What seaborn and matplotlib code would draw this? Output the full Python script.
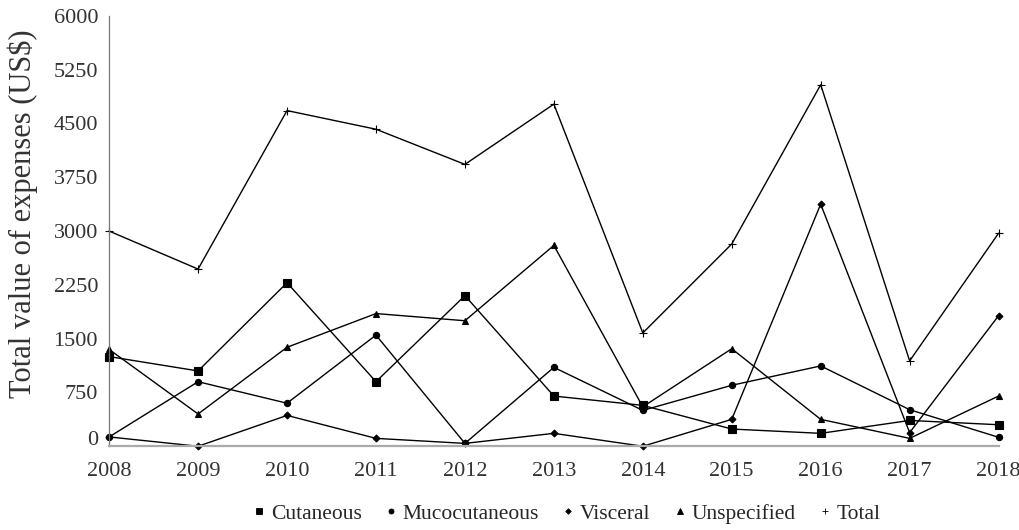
import pandas as pd
import seaborn as sns
import matplotlib.pyplot as plt
from matplotlib.lines import Line2D
from matplotlib.transforms import ScaledTranslation

years = [2008, 2009, 2010, 2011, 2012, 2013, 2014, 2015, 2016, 2017, 2018]

cutaneous = [1250, 1050, 2280, 900, 2100, 700, 570, 240, 180, 360, 300]
mucocutaneous = [130, 900, 600, 1550, 40, 1100, 500, 850, 1120, 510, 125]
visceral = [130, 0, 430, 110, 40, 180, 0, 375, 3375, 190, 1820]
unspecified = [1350, 450, 1380, 1850, 1750, 2800, 550, 1360, 375, 110, 700]
total = [3000, 2470, 4680, 4420, 3930, 4770, 1580, 2820, 5040, 1190, 2970]

series_names = ["Cutaneous", "Mucocutaneous", "Visceral", "Unspecified", "Total"]
series_values = [cutaneous, mucocutaneous, visceral, unspecified, total]

y_ticks = [0, 750, 1500, 2250, 3000, 3750, 4500, 5250, 6000]

# long form table for seaborn
rows = []
for name, vals in zip(series_names, series_values):
    for yr, v in zip(years, vals):
        rows.append([yr, v, name])
df = pd.DataFrame(rows, columns=["Year", "Value", "Series"])

markers = {"Cutaneous": "s", "Mucocutaneous": "o", "Visceral": "D", "Unspecified": "^", "Total": "+"}
msizes = {"Cutaneous": 5.5, "Mucocutaneous": 4.5, "Visceral": 3.5, "Unspecified": 5, "Total": 6}

sns.set_style("white")
plt.rcParams["font.family"] = ["Liberation Serif", "DejaVu Serif"]

fig = plt.figure(figsize=(10.2, 5.3), dpi=100)
ax = fig.add_axes([0.107, 0.158, 0.872, 0.812])

for name in series_names:
    sub = df[df["Series"] == name]
    sns.lineplot(data=sub, x="Year", y="Value", ax=ax, color="black", linewidth=1.0,
                 marker=markers[name], markersize=msizes[name], markeredgecolor="black",
                 markerfacecolor="black", markeredgewidth=0.8, clip_on=False, legend=False)

ax.set_xlim(2008, 2018)
ax.set_ylim(0, 6000)
ax.set_xticks(years)
ax.set_yticks(y_ticks)
ax.set_xticklabels([str(y) for y in years], fontsize=16)
ax.set_yticklabels([str(t) for t in y_ticks], fontsize=16)
ax.set_xlabel("")
ax.set_ylabel("Total value of expenses (US$)", fontsize=22, color="#333333")
ax.yaxis.set_label_coords(-0.08, 0.54)

for s in ["top", "right"]:
    ax.spines[s].set_visible(False)
ax.spines["left"].set_color("#777777")
ax.spines["left"].set_linewidth(0.9)
ax.spines["bottom"].set_color("#aaaaaa")
ax.spines["bottom"].set_linewidth(1.6)
ax.tick_params(axis="both", direction="inout", length=10, width=0.8, color="#555555",
               labelcolor="#333333")
ax.tick_params(axis="x", pad=6)
ax.tick_params(axis="y", pad=3)

# the zero label sits a little above its tick in the original
zero_lbl = ax.get_yticklabels()[0]
zero_lbl.set_transform(zero_lbl.get_transform() + ScaledTranslation(0, 0.08, fig.dpi_scale_trans))

handles = [Line2D([], [], linestyle="none", marker=markers[n], markersize=msizes[n] * 0.8,
                  color="black", markeredgewidth=0.6) for n in series_names]
fig.legend(handles, series_names, loc="lower center", bbox_to_anchor=(0.555, -0.025), ncol=5,
           frameon=False, fontsize=15.5, handletextpad=0.2, columnspacing=1.0, handlelength=0.7)

fig.savefig("out.png", dpi=100)
